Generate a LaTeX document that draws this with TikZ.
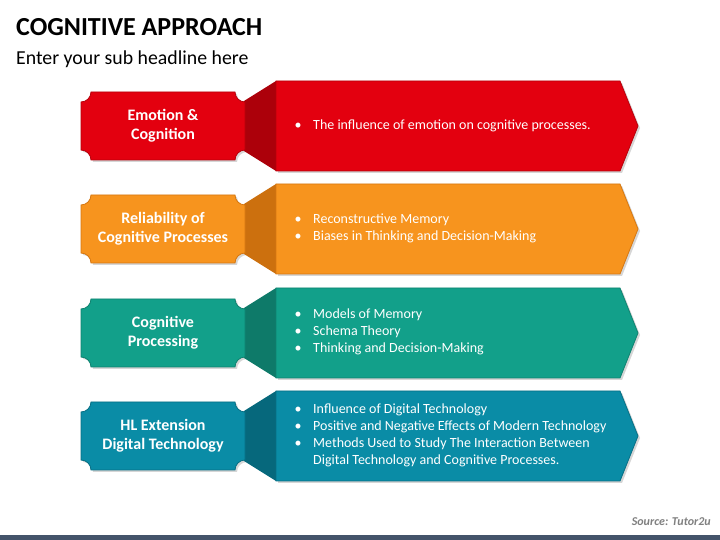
\documentclass[tikz,border=0pt]{standalone}
\usepackage{fontspec}
\setmainfont{Carlito}
\definecolor{cRed}{RGB}{227,0,15}
\definecolor{cRedD}{RGB}{172,0,10}
\definecolor{cOra}{RGB}{247,148,30}
\definecolor{cOraD}{RGB}{204,112,14}
\definecolor{cTea}{RGB}{18,160,138}
\definecolor{cTeaD}{RGB}{14,122,105}
\definecolor{cBlu}{RGB}{10,140,166}
\definecolor{cBluD}{RGB}{6,104,124}
\definecolor{cBar}{RGB}{68,84,106}
\tikzset{
  lbltext/.style={text=white,font=\fontsize{16}{19}\selectfont\bfseries,align=center},
  bultext/.style={text=white,font=\fontsize{14}{16}\selectfont,anchor=west,inner sep=0pt},
  bulmark/.style={text=white,font=\fontsize{14}{16}\selectfont,anchor=center,inner sep=0pt},
  shadowfill/.style={fill=black,opacity=0.16},
}
% ticket path: #1 centre y (canvas), #2 dx, #3 dy
\newcommand\ticketpath[3]{%
    (81+#2,#1-24+#3) -- (81+#2,#1+24+#3) arc[start angle=-90,end angle=0,radius=10pt]
    -- (235+#2,#1+34+#3) arc[start angle=180,end angle=270,radius=10pt]
    -- (245+#2,#1-24+#3) arc[start angle=90,end angle=180,radius=10pt]
    -- (91+#2,#1-34+#3) arc[start angle=0,end angle=90,radius=10pt] -- cycle}
% #1 centre y (from top), #2 fill, #3 dark, #4 name
\newcommand\drawrowshapes[4]{%
  \pgfmathsetmacro\cy{540-#1}%
  % shadow
  \fill[shadowfill] (278,\cy-47) -- (622,\cy-47) -- (640,\cy-2) -- (622,\cy+43) -- (278,\cy+43) -- cycle;
  \fill[shadowfill] \ticketpath{\cy}{2}{-2};
  % connector
  \fill[#3] (244,\cy-25) -- (276,\cy-45) -- (276,\cy+45) -- (244,\cy+25) -- cycle;
  % arrow
  \filldraw[fill=#2,draw=#3!80!#2,line width=0.8pt] (276,\cy+45) -- (620,\cy+45) -- (638,\cy) -- (620,\cy-45) -- (276,\cy-45) -- cycle;
  % label ticket
  \filldraw[fill=#2,draw=#3!80!#2,line width=0.8pt] \ticketpath{\cy}{0}{0};
  \coordinate (#4) at (163,\cy);
}
\newcommand\bul[3]{% #1 y from top, #2 name, #3 text
  \node[bulmark] (#2b) at (298,540-#1) {•};
  \node[bultext] (#2) at (313,540-#1) {#3};
}
\begin{document}
\begin{tikzpicture}[x=1pt,y=1pt]
\useasboundingbox (0,0) rectangle (720,540);
\fill[white] (0,0) rectangle (720,540);
\node[anchor=base west,inner sep=0pt,font=\fontsize{26}{30}\selectfont\bfseries] (title) at (16,540-36) {COGNITIVE APPROACH};
\node[anchor=base west,inner sep=0pt,font=\fontsize{19.8}{22}\selectfont] (sub) at (16,540-65) {Enter your sub headline here};

\drawrowshapes{126}{cRed}{cRedD}{c1}
\drawrowshapes{229}{cOra}{cOraD}{c2}
\drawrowshapes{333}{cTea}{cTeaD}{c3}
\drawrowshapes{436}{cBlu}{cBluD}{c4}

\node[lbltext] (l1) at (c1) {Emotion \&\\Cognition};
\node[lbltext] (l2) at (c2) {Reliability of\\Cognitive Processes};
\node[lbltext] (l3) at (c3) {Cognitive\\Processing};
\node[lbltext] (l4) at (c4) {HL Extension\\Digital Technology};

\bul{126}{t11}{The influence of emotion on cognitive processes.}
\bul{220}{t21}{Reconstructive Memory}
\bul{237}{t22}{Biases in Thinking and Decision-Making}
\bul{315}{t31}{Models of Memory}
\bul{332}{t32}{Schema Theory}
\bul{349}{t33}{Thinking and Decision-Making}
\bul{410}{t41}{Influence of Digital Technology}
\bul{427}{t42}{Positive and Negative Effects of Modern Technology}
\bul{444}{t43}{Methods Used to Study The Interaction Between}
\node[bultext] (t44) at (313,540-461) {Digital Technology and Cognitive Processes.};

\node[anchor=base east,inner sep=0pt,text=black!50,font=\fontsize{12}{14}\selectfont\bfseries\itshape] (src) at (711,540-526) {Source: Tutor2u};
\fill[cBar] (0,0) rectangle (720,5);
\end{tikzpicture}
\end{document}
